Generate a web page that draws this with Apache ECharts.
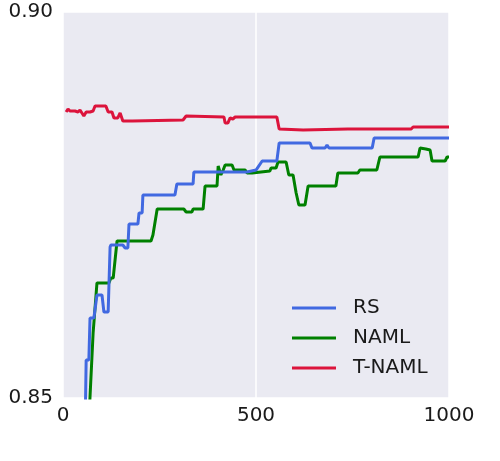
<!DOCTYPE html>
<html>
<head>
<meta charset="utf-8">
<script src="https://cdn.jsdelivr.net/npm/echarts@6/dist/echarts.min.js"></script>
<style>html,body{margin:0;padding:0;background:#fff;}#c{width:500px;height:461px;}</style>
</head>
<body>
<div id="c"></div>
<script>
var seriesNames = ['RS', 'NAML', 'T-NAML'];
var xTicks = [0, 500, 1000];
var yTicks = [0.85, 0.90];

var rsIter = [57, 60, 67, 70, 80, 88, 101, 106, 117, 122, 124, 155, 161, 168, 171, 194, 197, 205, 207, 290, 295, 337, 339, 477, 482, 500, 505, 516, 554, 560, 640, 645, 679, 684, 689, 801, 806, 1000];
var rsVal = [0.845, 0.85492, 0.85492, 0.86036, 0.86036, 0.86334, 0.86334, 0.86114, 0.86114, 0.86956, 0.86982, 0.86982, 0.86943, 0.86943, 0.87254, 0.87254, 0.87396, 0.87396, 0.87630, 0.87630, 0.87772, 0.87772, 0.87927, 0.87927, 0.87940, 0.87953, 0.87940, 0.88070, 0.88070, 0.88303, 0.88303, 0.88238, 0.88238, 0.88277, 0.88238, 0.88238, 0.88368, 0.88368];

var namlIter = [65, 78, 83, 88, 119, 124, 130, 140, 228, 233, 244, 313, 319, 334, 337, 363, 368, 399, 402, 404, 409, 415, 420, 438, 443, 472, 477, 490, 495, 536, 539, 552, 557, 578, 585, 596, 604, 611, 627, 635, 707, 712, 764, 769, 813, 821, 920, 925, 940, 951, 956, 990, 995, 1000];
var namlVal = [0.845, 0.85842, 0.85842, 0.86490, 0.86490, 0.86554, 0.86554, 0.87034, 0.87034, 0.87111, 0.87448, 0.87448, 0.87409, 0.87409, 0.87448, 0.87448, 0.87746, 0.87746, 0.88005, 0.88005, 0.87889, 0.87953, 0.88018, 0.88018, 0.87953, 0.87953, 0.87915, 0.87915, 0.87940, 0.87940, 0.87979, 0.87979, 0.88057, 0.88057, 0.87889, 0.87889, 0.87655, 0.87500, 0.87500, 0.87746, 0.87746, 0.87915, 0.87915, 0.87953, 0.87953, 0.88122, 0.88122, 0.88238, 0.88225, 0.88212, 0.88070, 0.88070, 0.88122, 0.88122];

var tnamlIter = [8, 13, 18, 23, 31, 39, 44, 49, 54, 60, 70, 78, 83, 111, 117, 127, 132, 142, 148, 150, 155, 180, 185, 311, 319, 417, 420, 427, 433, 440, 446, 554, 560, 622, 738, 902, 907, 1000];
var tnamlVal = [0.88705, 0.88744, 0.88718, 0.88705, 0.88718, 0.88705, 0.88731, 0.88718, 0.88653, 0.88705, 0.88705, 0.88718, 0.88782, 0.88782, 0.88705, 0.88705, 0.88627, 0.88627, 0.88692, 0.88679, 0.88588, 0.88588, 0.88601, 0.88601, 0.88653, 0.88640, 0.88562, 0.88562, 0.88627, 0.88614, 0.88640, 0.88640, 0.88484, 0.88472, 0.88484, 0.88484, 0.88510, 0.88510];

var colors = ['#4169E1', '#008000', '#DC143C'];

function pairs(xs, ys) { return xs.map(function (x, i) { return [x, ys[i]]; }); }
var allData = [pairs(rsIter, rsVal), pairs(namlIter, namlVal), pairs(tnamlIter, tnamlVal)];

var chart = echarts.init(document.getElementById('c'), null, { renderer: 'canvas' });
var font = 'DejaVu Sans';
chart.setOption({
  animation: false,
  backgroundColor: '#ffffff',
  grid: { left: 63, top: 12, right: 51, bottom: 63, show: true, backgroundColor: '#EAEAF2', borderWidth: 0 },
  xAxis: {
    type: 'value', min: xTicks[0], max: xTicks[xTicks.length - 1], interval: 500,
    axisLine: { show: false }, axisTick: { show: false },
    splitLine: { show: true, lineStyle: { color: '#ffffff', width: 1.5 } },
    axisLabel: { color: '#1a1a1a', fontFamily: font, fontSize: 20, margin: 8, formatter: function (v) { return String(v); } }
  },
  yAxis: {
    type: 'value', min: yTicks[0], max: yTicks[yTicks.length - 1], interval: 0.05,
    axisLine: { show: false }, axisTick: { show: false },
    splitLine: { show: true, lineStyle: { color: '#ffffff', width: 1.5 } },
    axisLabel: { color: '#1a1a1a', fontFamily: font, fontSize: 20, margin: 10, formatter: function (v) { return v.toFixed(2); } }
  },
  legend: {
    orient: 'vertical', left: 292, top: 298, padding: 0,
    itemWidth: 44, itemHeight: 3, itemGap: 10, icon: 'rect',
    textStyle: { color: '#1a1a1a', fontFamily: font, fontSize: 20, lineHeight: 20, padding: [0, 0, 0, 12] },
    data: seriesNames
  },
  series: seriesNames.map(function (n, i) {
    return {
      name: n, type: 'line', data: allData[i], showSymbol: false, symbol: 'none',
      clip: true, z: 3 + (i === 0 ? 1 : 0),
      lineStyle: { color: colors[i], width: 3 }, itemStyle: { color: colors[i] }
    };
  })
});
</script>
</body>
</html>
